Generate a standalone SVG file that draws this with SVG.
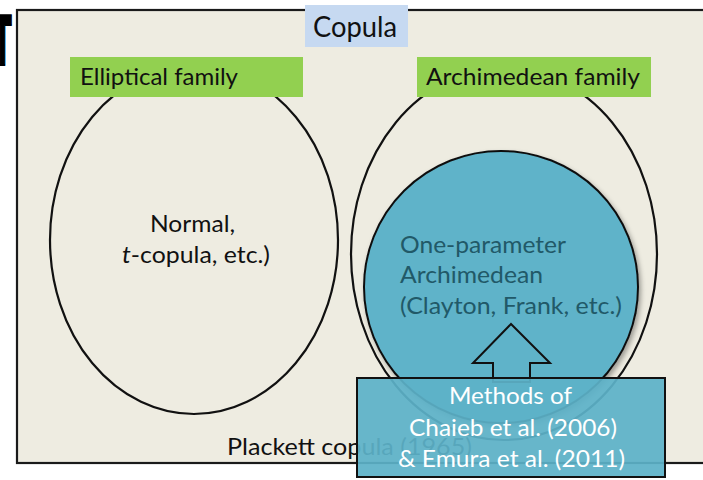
<svg xmlns="http://www.w3.org/2000/svg" width="703" height="480" viewBox="0 0 703 480">
<defs>
<style>
.t{font-family:Lato,"Open Sans","Liberation Sans",sans-serif;font-size:24px;fill:#111}
.w{fill:#ffffff}
.c{fill:#215968}
.lbl{fill:#92d050}
.ell{fill:none;stroke:#111;stroke-width:2.2}
.blue{fill:#5fb3c9;stroke:#111;stroke-width:2}
</style>
<filter id="sh" x="-10%" y="-10%" width="130%" height="130%">
<feDropShadow dx="2" dy="3" stdDeviation="2.5" flood-color="#000" flood-opacity="0.35"/>
</filter>
</defs>
<rect x="0" y="0" width="703" height="480" fill="#ffffff"/>
<text x="0" y="0" transform="translate(-7,65) scale(0.4,1)" style="font-family:'DejaVu Sans',sans-serif;font-weight:bold;font-size:68px;fill:#000;stroke:#000;stroke-width:2">T</text>
<g id="frame">
<rect x="17" y="10" width="700" height="453" fill="#eeece1" stroke="#1a1a1a" stroke-width="2.2"/>
</g>
<g id="copula">
<rect x="305" y="5" width="103" height="42" fill="#c6d9f1"/>
<text class="t" x="355" y="37" text-anchor="middle" style="font-size:28px" textLength="84" lengthAdjust="spacingAndGlyphs">Copula</text>
</g>
<g id="elliptical">
<ellipse class="ell" cx="194" cy="240" rx="144" ry="174"/>
<rect class="lbl" x="70" y="57" width="233" height="40"/>
<text class="t" x="80" y="85" textLength="158" lengthAdjust="spacingAndGlyphs">Elliptical family</text>
<text class="t" x="150" y="232" textLength="85" lengthAdjust="spacingAndGlyphs">Normal,</text>
<text class="t" x="122" y="263" textLength="148" lengthAdjust="spacingAndGlyphs"><tspan font-style="italic">t</tspan>-copula, etc.)</text>
</g>
<g id="archimedean">
<ellipse class="ell" cx="504" cy="254" rx="153" ry="186"/>
<rect class="lbl" x="417" y="57" width="234" height="40"/>
<text class="t" x="426" y="85" textLength="214" lengthAdjust="spacingAndGlyphs">Archimedean family</text>
</g>
<g id="plackett">
<text class="t" x="227" y="455" textLength="245" lengthAdjust="spacingAndGlyphs">Plackett copula (1965)</text>
</g>
<g id="one-parameter">
<ellipse class="blue" cx="501" cy="287" rx="137" ry="136" filter="url(#sh)"/>
<text class="t c" x="400" y="253" textLength="166" lengthAdjust="spacingAndGlyphs">One-parameter</text>
<text class="t c" x="400" y="283" textLength="143" lengthAdjust="spacingAndGlyphs">Archimedean</text>
<text class="t c" x="400" y="314" textLength="222" lengthAdjust="spacingAndGlyphs">(Clayton, Frank, etc.)</text>
</g>
<g id="connectors">
<polygon class="blue" points="511,324 550,363 530,363 530,382 493,382 493,363 473,363" stroke-linejoin="miter"/>
</g>
<g id="methods">
<rect x="357" y="378" width="308" height="99" fill="#5db2c8" fill-opacity="0.93" stroke="#111" stroke-width="2"/>
<text class="t w" x="449" y="404" textLength="123" lengthAdjust="spacingAndGlyphs">Methods of</text>
<text class="t w" x="409" y="436" textLength="208" lengthAdjust="spacingAndGlyphs">Chaieb et al. (2006)</text>
<text class="t w" x="398" y="467" textLength="227" lengthAdjust="spacingAndGlyphs">&amp; Emura et al. (2011)</text>
</g>
</svg>
